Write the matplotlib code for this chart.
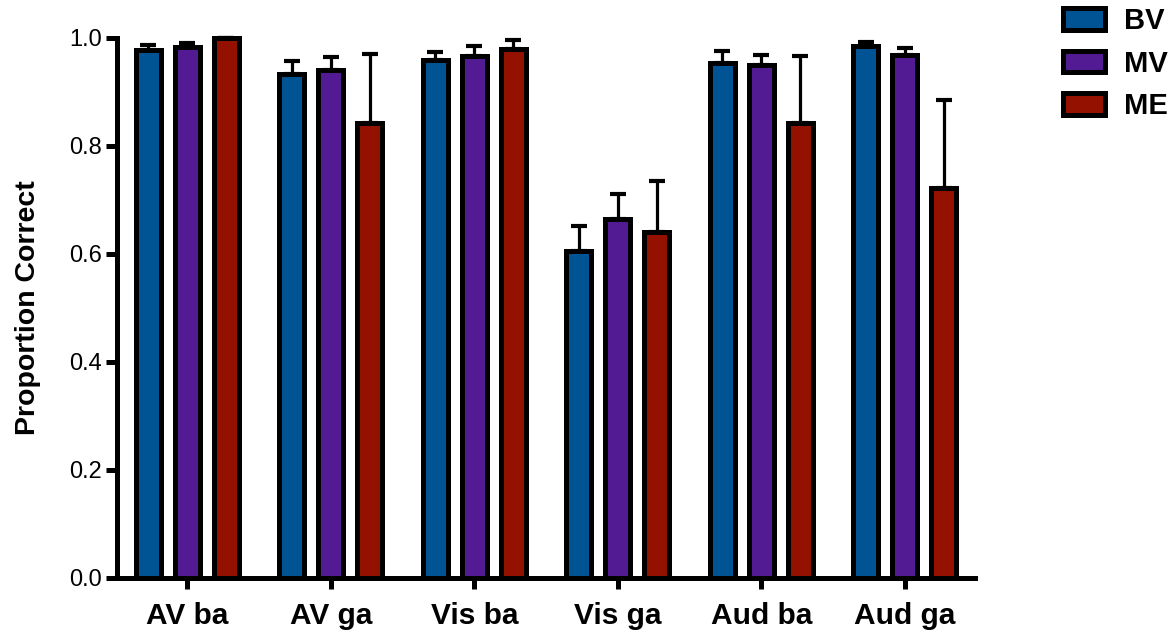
import matplotlib
matplotlib.use("Agg")
import matplotlib.pyplot as plt
import numpy as np
from matplotlib.patches import Patch

plt.rcParams['font.family'] = ['Liberation Sans', 'DejaVu Sans']

categories = ["AV ba", "AV ga", "Vis ba", "Vis ga", "Aud ba", "Aud ga"]
series = ["BV", "MV", "ME"]
bv = [0.977, 0.932, 0.959, 0.605, 0.953, 0.984]
mv = [0.982, 0.939, 0.966, 0.664, 0.950, 0.967]
me = [1.000, 0.842, 0.979, 0.640, 0.842, 0.722]
bv_err = [0.009, 0.024, 0.014, 0.046, 0.022, 0.008]
mv_err = [0.008, 0.024, 0.018, 0.047, 0.017, 0.014]
me_err = [0.0, 0.127, 0.016, 0.094, 0.123, 0.162]
colors = ["#005493", "#531B93", "#941100"]

fig = plt.figure(figsize=(11.75, 6.34), dpi=100)
ax = fig.add_axes([117/1175, (634-578)/634, (975-117)/1175, (578-37.5)/634])

x = np.arange(len(categories))
step = 0.272
width = 0.174
lw = 3.6
for i, (vals, errs, c) in enumerate(zip([bv, mv, me], [bv_err, mv_err, me_err], colors)):
    pos = x + (i - 1) * step
    ax.errorbar(pos, vals, yerr=[np.zeros(len(errs)), errs], fmt='none', ecolor='black',
                elinewidth=2.3, capsize=5.8, capthick=3.0, zorder=1, clip_on=False)
    ax.bar(pos, vals, width=width, color=c, edgecolor='black', linewidth=lw, zorder=2,
           clip_on=False)

ax.set_xlim(-0.49, 5.49)
ax.set_ylim(0, 1.0)
ax.set_yticks(np.arange(0, 1.01, 0.2))
ax.set_yticklabels([f"{v:.1f}" for v in np.arange(0, 1.01, 0.2)], fontsize=17)
ax.set_xticks(x)
ax.set_xticklabels(categories, fontsize=21.5, fontweight='bold')
ax.set_ylabel("Proportion Correct", fontsize=20.5, fontweight='bold', labelpad=20)

for s in ['top', 'right']:
    ax.spines[s].set_visible(False)
for s in ['left', 'bottom']:
    ax.spines[s].set_linewidth(3.6)
ax.tick_params(axis='both', width=3.6, length=8, direction='out')
ax.tick_params(axis='x', pad=9)
ax.tick_params(axis='y', pad=3)

handles = [Patch(facecolor=c, edgecolor='black', linewidth=lw) for c in colors]
leg = fig.legend(handles, series, loc='upper left', bbox_to_anchor=(1063/1175, 1 - 7/634),
                 frameon=False, prop={'size': 21, 'weight': 'bold'},
                 handlelength=1.45, handleheight=0.75, labelspacing=0.5,
                 handletextpad=0.65, borderaxespad=0, borderpad=0)

fig.savefig("out.png", dpi=100)
